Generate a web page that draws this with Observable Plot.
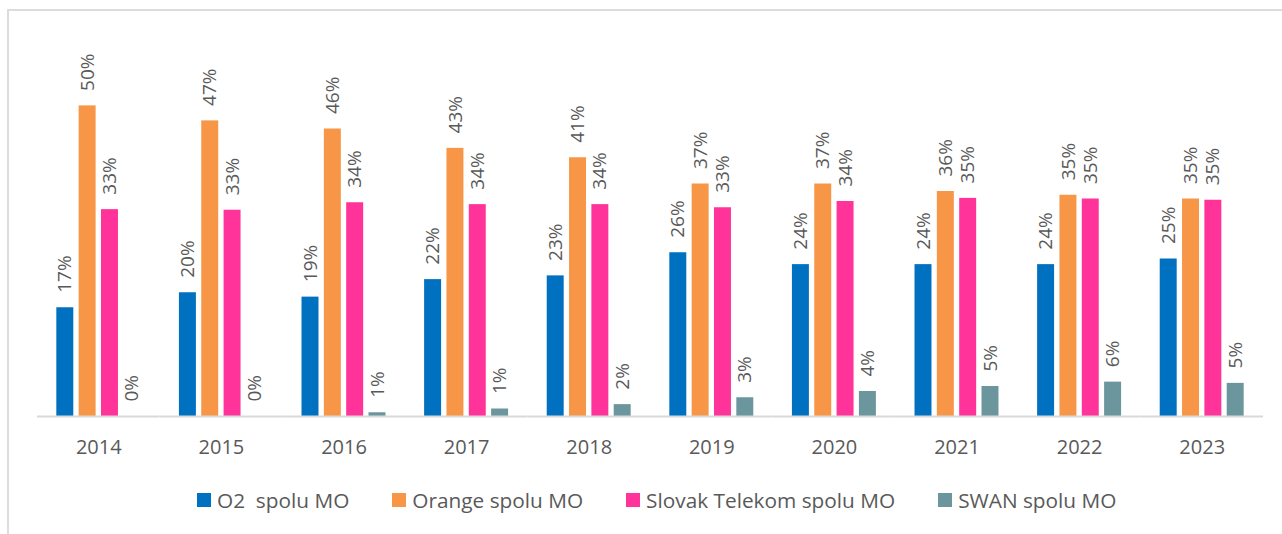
<!DOCTYPE html>
<html>
<head>
<meta charset="utf-8">
<script src="https://cdn.jsdelivr.net/npm/d3@7"></script>
<script src="https://cdn.jsdelivr.net/npm/@observablehq/plot@0.6"></script>
<style>
  html, body { margin: 0; padding: 0; background: #fff; }
  #wrap { position: relative; width: 1282px; height: 534px; overflow: hidden; font-family: "Open Sans", sans-serif; }
  #frame { position: absolute; left: 7px; top: 9px; width: 1400px; height: 700px; border: 2px solid #dcdcdc; box-sizing: border-box; }
  #chart { position: absolute; left: 0; top: 0; }
  #legend { position: absolute; left: 197px; top: 483px; }
  #legend, #legend * { font-family: "Open Sans", sans-serif !important; font-size: 20.8px !important; color: #595959 !important; }
  .lg { margin: 0 !important; min-height: 28px !important; flex-wrap: nowrap !important; }
  .lg-swatch { margin-right: 43px !important; white-space: pre; }
  .lg-swatch:last-child { margin-right: 0 !important; }
  .lg-swatch > svg { margin-right: 6px !important; }
</style>
</head>
<body>
<div id="wrap">
  <div id="frame"></div>
  <div id="chart"></div>
  <div id="legend"></div>
</div>
<script>
const years = ["2014","2015","2016","2017","2018","2019","2020","2021","2022","2023"];
const series = ["O2  spolu MO", "Orange spolu MO", "Slovak Telekom spolu MO", "SWAN spolu MO"];
const colors = ["#0070c0", "#f79646", "#ff3399", "#6c969d"];
const o2      = [17.4, 19.8, 19.1, 21.9, 22.5, 26.2, 24.3, 24.3, 24.3, 25.2];
const orange  = [49.7, 47.3, 46.0, 42.9, 41.4, 37.2, 37.2, 36.0, 35.4, 34.8];
const telekom = [33.1, 33.0, 34.2, 33.9, 33.9, 33.4, 34.4, 34.9, 34.8, 34.6];
const swan    = [0.0, 0.0, 0.6, 1.2, 1.9, 3.0, 4.0, 4.8, 5.5, 5.3];

const seriesValues = [o2, orange, telekom, swan];
const data = [];
years.forEach((y, i) => {
  series.forEach((s, j) => {
    data.push({year: y, series: s, value: seriesValues[j][i]});
  });
});

const chart = Plot.plot({
  width: 1282,
  height: 470,
  marginLeft: 37,
  marginRight: 19,
  marginTop: 103.5,
  marginBottom: 54,
  style: {fontFamily: "'Open Sans', sans-serif", color: "#595959", background: "transparent"},
  fx: {domain: years, padding: 0, round: false, label: null},
  x: {domain: series, axis: null, paddingInner: 0.24, paddingOuter: 0.865, round: false},
  y: {domain: [0, 50], axis: null},
  color: {domain: series, range: colors},
  marks: [
    Plot.barY(data, {fx: "year", x: "series", y: "value", fill: "series"}),
    Plot.ruleY([0], {stroke: "#d9d9d9", strokeWidth: 2}),
    Plot.text(data, {
      fx: "year", x: "series", y: "value",
      text: d => `${Math.round(d.value)}%`,
      rotate: -90, textAnchor: "start", dy: -15,
      fill: "#595959", fontSize: 19
    }),
    Plot.axisFx({anchor: "bottom", tickSize: 0, tickPadding: 23, fontSize: 20, label: null, fill: "#595959"})
  ]
});
document.getElementById("chart").appendChild(chart);

const legend = Plot.legend({
  color: {domain: series, range: colors},
  legend: "swatches",
  swatchSize: 14,
  className: "lg",
  style: {fontSize: "20.8px", fontFamily: "'Open Sans', sans-serif", color: "#595959"}
});
document.getElementById("legend").appendChild(legend);
</script>
</body>
</html>
